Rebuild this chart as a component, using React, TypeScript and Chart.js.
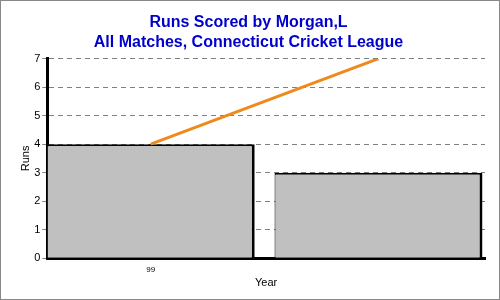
import React, { useEffect, useRef } from "react";
import { Chart, registerables } from "chart.js";

Chart.register(...registerables);

const years = ["99", ""];
const runs = [4, 3];
const trend = [4, 7];
const yTicks = [0, 1, 2, 3, 4, 5, 6, 7];

const frame = {
  id: "frame",
  afterDraw(chart: any) {
    const c = chart.ctx;
    c.save();
    c.strokeStyle = "#888888";
    c.lineWidth = 1;
    c.strokeRect(0.5, 0.5, chart.width - 1, chart.height - 1);
    c.restore();
  },
};

export default function App() {
  const ref = useRef<HTMLCanvasElement>(null);
  useEffect(() => {
    const chart = new Chart(ref.current!, {
      type: "bar",
      data: {
        labels: years,
        datasets: [
          {
            type: "line",
            data: trend,
            borderColor: "#F0891C",
            borderWidth: 3,
            pointRadius: 0,
            order: 0,
          } as any,
          {
            type: "bar",
            data: runs,
            backgroundColor: "#C0C0C0",
            borderColor: "#000000",
            borderWidth: { top: 2, left: 1, right: 3, bottom: 0 },
            borderSkipped: false,
            categoryPercentage: 0.913,
            barPercentage: 1,
            order: 1,
          } as any,
        ],
      },
      options: {
        animation: false,
        responsive: false,
        layout: { padding: { left: 12, right: 15, top: 4, bottom: 10 } },
        plugins: {
          legend: { display: false },
          tooltip: { enabled: false },
          title: {
            display: true,
            text: ["Runs Scored by Morgan,L", "All Matches, Connecticut Cricket League"],
            color: "#0000CC",
            font: { family: "Liberation Sans", size: 16, weight: "bold", lineHeight: 1.27 },
            padding: { top: 8, bottom: 6 },
          },
        },
        scales: {
          x: {
            offset: true,
            afterUpdate: (axis: any) => {
              axis._startValue = -0.454;
              axis._valueRange = 1.9216;
            },
            grid: { display: false, drawTicks: true, tickLength: 5 },
            border: { color: "#000000", width: 3 },
            ticks: { color: "#000", font: { family: "Liberation Sans", size: 8 }, padding: 2 },
            title: {
              display: true,
              text: "Year",
              color: "#000",
              font: { family: "Liberation Sans", size: 11 },
              padding: { top: 0, bottom: 0 },
            },
          },
          y: {
            min: 0,
            max: 7,
            afterBuildTicks: (axis: any) => {
              axis.ticks = yTicks.map((v) => ({ value: v }));
            },
            grid: { color: "#808080", tickLength: 5 },
            border: { color: "#000000", width: 3, dash: [5, 4] },
            ticks: { color: "#000", font: { family: "Liberation Sans", size: 11 }, padding: 2 },
            title: {
              display: true,
              text: "Runs",
              color: "#000",
              font: { family: "Liberation Sans", size: 11 },
              padding: { top: 7, bottom: 0 },
            },
          },
        },
      } as any,
      plugins: [frame],
    });
    return () => chart.destroy();
  }, []);
  return (
    <div style={{ position: "absolute", left: 0, top: 0, width: 500, height: 300 }}>
      <canvas ref={ref} width={500} height={300} />
    </div>
  );
}
